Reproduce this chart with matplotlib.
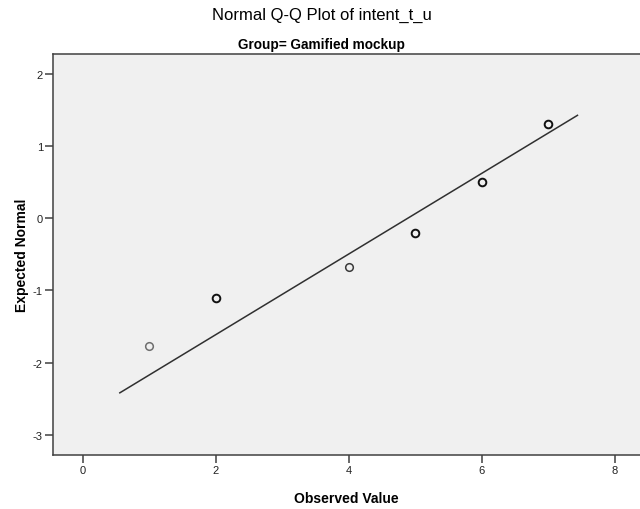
import matplotlib

matplotlib.use("Agg")
import matplotlib.pyplot as plt
import numpy as np

plt.rcParams["font.family"] = ["Liberation Sans", "DejaVu Sans"]
plt.rcParams["axes.unicode_minus"] = False

# observed scores and their expected normal quantiles
observed = [1, 2, 4, 5, 6, 7]
expected_normal = [-1.77, -1.10, -0.68, -0.20, 0.50, 1.30]
point_colors = ["#6e6e6e", "#111111", "#3a3a3a", "#111111", "#111111", "#111111"]

# reference line: z = (x - mean) / sd over the plotted range
sample_mean = 4.89
sample_sd = 1.79
line_range = [0.56, 7.44]

x_ticks = [0, 2, 4, 6, 8]
y_ticks = [-3, -2, -1, 0, 1, 2]

fig = plt.figure(figsize=(6.4, 5.1), dpi=100)
ax = fig.add_axes([0.0833, 0.1059, 0.9167, 0.7857])
ax.set_facecolor("#f0f0f0")

line_x = np.array(line_range)
ax.plot(line_x, (line_x - sample_mean) / sample_sd, color="#303030", linewidth=1.1, zorder=2)

for xv, yv, col in zip(observed, expected_normal, point_colors):
    ax.plot(xv, yv, "o", markersize=5.5, markerfacecolor="none",
            markeredgecolor=col, markeredgewidth=1.4 if col == "#111111" else 1.1, zorder=3)

ax.set_xlim(-0.44, 8.38)
ax.set_ylim(-3.28, 2.27)
ax.set_xticks(x_ticks)
ax.set_yticks(y_ticks)
ax.tick_params(direction="out", length=6, width=1.1, color="#404040",
               labelsize=8, labelcolor="#222222", pad=1.5)

for side in ("left", "bottom", "top"):
    ax.spines[side].set_color("#404040")
    ax.spines[side].set_linewidth(1.1)
ax.spines["right"].set_visible(False)

ax.set_xlabel("Observed Value", fontsize=10, fontweight="bold", labelpad=11)
ax.set_ylabel("Expected Normal", fontsize=10, fontweight="bold", labelpad=3)

fig.text(0.503, 0.97, "Normal Q-Q Plot of intent_t_u", ha="center", va="center", fontsize=12)
fig.text(0.503, 0.912, "Group= Gamified mockup", ha="center", va="center",
         fontsize=9.8, fontweight="bold")

fig.savefig("out.png", dpi=100)
